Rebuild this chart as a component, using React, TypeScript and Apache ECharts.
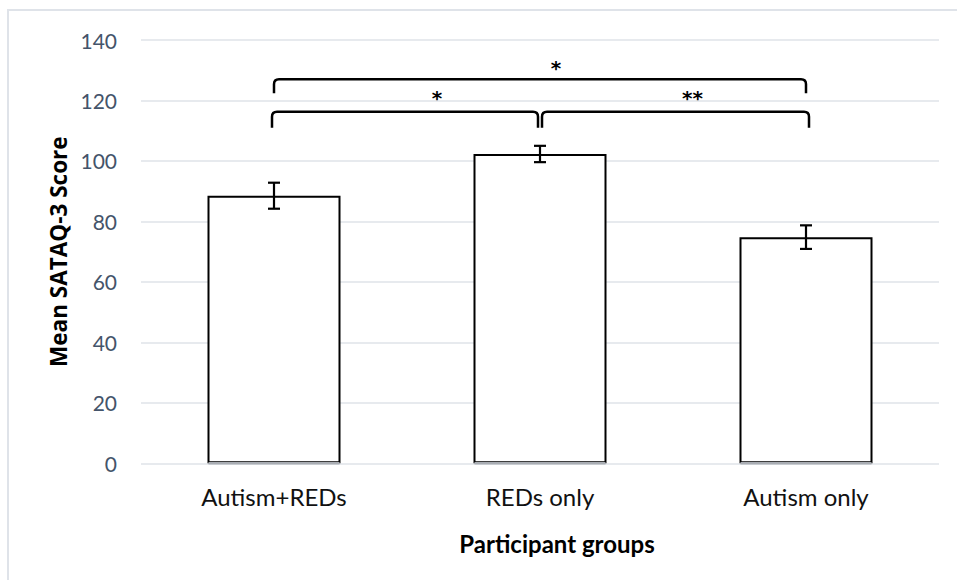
import React, { useEffect, useRef } from "react";
import * as echarts from "echarts";

// ---- data ----
const categories = ["Autism+REDs", "REDs only", "Autism only"];
const means = [88.5, 102.3, 74.8];
const errors = [4.3, 2.7, 3.9];
const yMin = 0;
const yMax = 140;
const yStep = 20;

// significance brackets
const bracketFrom = [0, 0, 1];
const bracketTo = [2, 1, 2];
const bracketTop = [127.0, 116.3, 116.3];
const bracketLeg = [122.4, 111.0, 111.0];
const bracketLabelY = [130.6, 120.7, 120.7];
const bracketLabels = ["*", "*", "**"];

// pixel tweaks (styles)
const insetLeft = [0, -2, 2];
const insetRight = [0, -2, 3];
const labelShift = [16, 32, 17];

export default function App() {
  const ref = useRef<HTMLDivElement>(null);
  useEffect(() => {
    if (!ref.current) return;
    const chart = echarts.init(ref.current, null, { renderer: "svg" });

    const errData = categories.map((_, i) => [i, means[i] - errors[i], means[i] + errors[i]]);
    const brData = bracketFrom.map((f, i) => [f, bracketTo[i], bracketTop[i], bracketLeg[i], bracketLabelY[i], i]);

    const option: any = {
      animation: false,
      backgroundColor: "#ffffff",
      grid: { left: 141, right: 18, top: 40, bottom: 116.7, containLabel: false },
      graphic: [
        {
          type: "rect",
          silent: true,
          z: -10,
          shape: { x: 8, y: 10, width: 1000, height: 640 },
          style: { fill: "none", stroke: "#dfe3e9", lineWidth: 2 },
        },
      ],
      xAxis: {
        type: "category",
        data: categories,
        axisLine: { show: false },
        axisTick: { show: false },
        axisLabel: { fontFamily: "Lato", fontSize: 24, color: "#111", margin: 21 },
        name: "Participant groups",
        nameLocation: "middle",
        nameGap: 68,
        nameTextStyle: {
          fontFamily: "Lato",
          fontWeight: "bold",
          fontSize: 24,
          color: "#000",
          padding: [0, 0, 0, 34],
        },
      },
      yAxis: {
        type: "value",
        min: yMin,
        max: yMax,
        interval: yStep,
        axisLine: { show: false },
        axisTick: { show: false },
        splitLine: { lineStyle: { color: "#dfe3e9", width: 1.5 } },
        axisLabel: { fontFamily: "Lato", fontSize: 21, color: "#44546a", margin: 24 },
        name: "Mean SATAQ-3 Score",
        nameLocation: "middle",
        nameRotate: 90,
        nameGap: 62,
        nameTextStyle: {
          fontFamily: "Open Sans",
          fontWeight: "bold",
          fontSize: 22.5,
          color: "#000",
        },
      },
      series: [
        {
          type: "bar",
          data: means,
          barWidth: "50%",
          itemStyle: { color: "#ffffff", borderColor: "#000000", borderWidth: 2 },
        },
        {
          type: "custom",
          data: errData,
          encode: { x: 0, y: [1, 2] },
          z: 5,
          renderItem: (params: any, api: any) => {
            const x = api.value(0);
            const lo = api.coord([x, api.value(1)]);
            const hi = api.coord([x, api.value(2)]);
            const base = api.coord([x, 0]);
            const half = api.size([1, 0])[0] * 0.25;
            const cap = 6;
            const st = { stroke: "#000", lineWidth: 2.2 };
            return {
              type: "group",
              children: [
                {
                  type: "line",
                  shape: { x1: base[0] - half + 1, y1: base[1], x2: base[0] + half - 1, y2: base[1] },
                  style: { stroke: "#a9adb3", lineWidth: 2.5 },
                },
                { type: "line", shape: { x1: lo[0], y1: lo[1], x2: hi[0], y2: hi[1] }, style: st },
                { type: "line", shape: { x1: lo[0] - cap, y1: lo[1], x2: lo[0] + cap, y2: lo[1] }, style: st },
                { type: "line", shape: { x1: hi[0] - cap, y1: hi[1], x2: hi[0] + cap, y2: hi[1] }, style: st },
              ],
            };
          },
        },
        {
          type: "custom",
          data: brData,
          encode: { x: 0, y: [2, 3] },
          z: 6,
          renderItem: (params: any, api: any) => {
            const i = api.value(5);
            const a = api.coord([api.value(0), api.value(2)]);
            const b = api.coord([api.value(1), api.value(2)]);
            const leg = api.coord([api.value(0), api.value(3)]);
            const lab = api.coord([api.value(0), api.value(4)]);
            const x1 = a[0] + insetLeft[i];
            const x2 = b[0] + insetRight[i];
            const yT = a[1];
            const yL = leg[1];
            const r = 5;
            const d = `M${x1},${yL} L${x1},${yT + r} Q${x1},${yT} ${x1 + r},${yT} L${x2 - r},${yT} Q${x2},${yT} ${x2},${yT + r} L${x2},${yL}`;
            return {
              type: "group",
              children: [
                {
                  type: "path",
                  shape: { pathData: d },
                  style: { fill: "none", stroke: "#000", lineWidth: 2.5 },
                },
                {
                  type: "text",
                  x: (x1 + x2) / 2 + labelShift[i],
                  y: lab[1],
                  style: {
                    text: bracketLabels[i],
                    fontFamily: "DejaVu Sans",
                    fontWeight: "bold",
                    fontSize: 20,
                    fill: "#000",
                    align: "center",
                    verticalAlign: "middle",
                  },
                },
              ],
            };
          },
        },
      ],
    };
    chart.setOption(option);
    return () => chart.dispose();
  }, []);
  return (
    <div
      ref={ref}
      style={{ position: "absolute", left: 0, top: 0, width: 957, height: 580 }}
    />
  );
}
